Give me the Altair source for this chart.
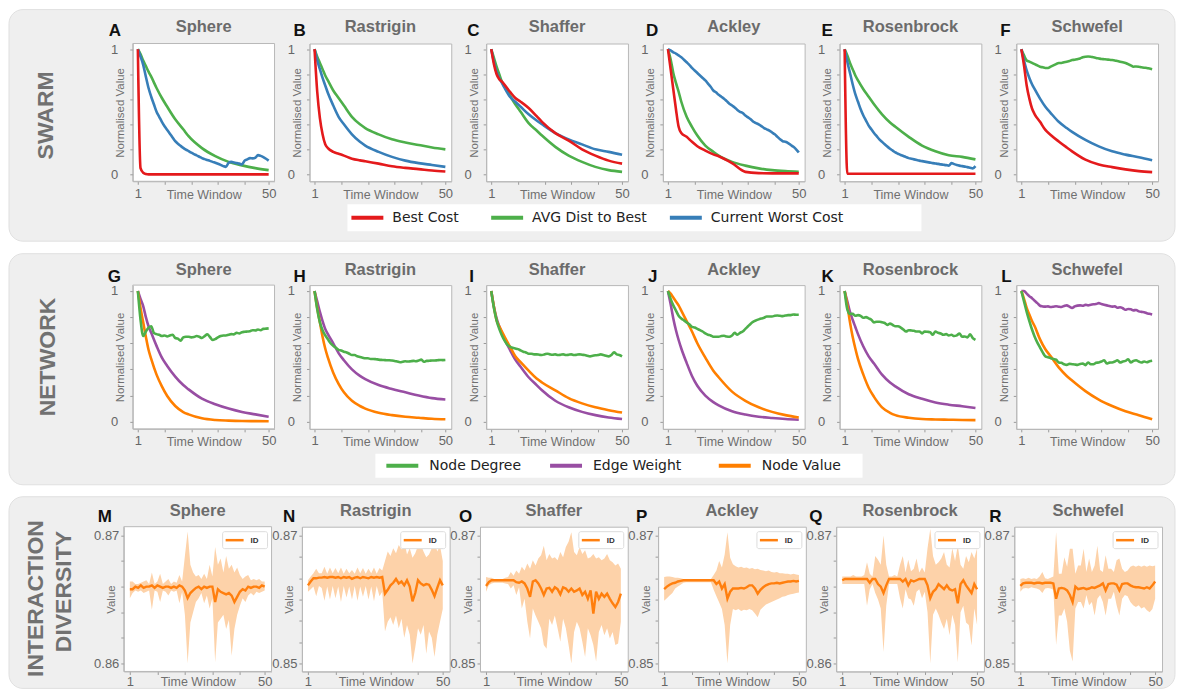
import altair as alt
import pandas as pd

# ---------------- data ----------------
T = list(range(1, 51))
TS = [1, 2, 3, 4, 5, 6, 8, 10, 12, 15, 18, 20, 25, 30, 35, 40, 45, 50]

FUNCTIONS = ["Sphere", "Rastrigin", "Shaffer", "Ackley", "Rosenbrock", "Schwefel"]
LETTERS_SWARM = ["A", "B", "C", "D", "E", "F"]
LETTERS_NET = ["G", "H", "I", "J", "K", "L"]
LETTERS_ID = ["M", "N", "O", "P", "Q", "R"]
ROW_LABELS = ["SWARM", "NETWORK", "INTERACTION", "DIVERSITY"]

SWARM_SERIES = ["Best Cost", "AVG Dist to Best", "Current Worst Cost"]
SWARM_COLORS = ["#e41a1c", "#4daf4a", "#377eb8"]
NET_SERIES = ["Node Degree", "Edge Weight", "Node Value"]
NET_COLORS = ["#4daf4a", "#984ea3", "#ff7f00"]
ID_SERIES = ["ID"]

# --- SWARM row ---
A_BEST = [1, 0.05, 0.013, 0.003, 0, 0, 0, 0, 0, 0, 0, 0, 0, 0, 0, 0, 0, 0]
A_DIST = [1, 0.96, 0.91, 0.865, 0.82, 0.78, 0.69, 0.61, 0.54, 0.44, 0.36, 0.305, 0.21, 0.146, 0.10, 0.072, 0.05, 0.034]
A_WORST = [1, 0.94, 0.875, 0.78, 0.69, 0.62, 0.56, 0.50, 0.46, 0.42,
           0.385, 0.355, 0.325, 0.295, 0.265, 0.245, 0.228, 0.212, 0.198, 0.186,
           0.173, 0.162, 0.152, 0.141, 0.13, 0.122, 0.115, 0.108, 0.10, 0.093,
           0.085, 0.076, 0.066, 0.06, 0.093, 0.10, 0.095, 0.09, 0.086, 0.08,
           0.11, 0.12, 0.13, 0.128, 0.133, 0.154, 0.148, 0.138, 0.125, 0.11]
B_BEST = [1, 0.66, 0.45, 0.32, 0.24, 0.21, 0.18, 0.165, 0.15, 0.125, 0.112, 0.105, 0.086, 0.065, 0.052, 0.042, 0.031, 0.023]
B_DIST = [1, 0.94, 0.89, 0.84, 0.79, 0.75, 0.67, 0.61, 0.55, 0.46, 0.40, 0.37, 0.32, 0.28, 0.255, 0.235, 0.215, 0.20]
B_WORST = [1, 0.91, 0.84, 0.77, 0.71, 0.65, 0.55, 0.46, 0.40, 0.32, 0.26, 0.23, 0.18, 0.14, 0.11, 0.09, 0.075, 0.06]
C_BEST = [1, 0.88, 0.80, 0.76, 0.74, 0.715, 0.66, 0.61, 0.58, 0.53, 0.465, 0.42, 0.33, 0.27, 0.20, 0.15, 0.11, 0.086]
C_DIST = [1, 0.93, 0.86, 0.80, 0.74, 0.70, 0.63, 0.56, 0.50, 0.41, 0.35, 0.31, 0.22, 0.15, 0.10, 0.06, 0.034, 0.02]
C_WORST = [1, 0.90, 0.82, 0.77, 0.73, 0.69, 0.62, 0.58, 0.54, 0.48, 0.43, 0.40, 0.33, 0.28, 0.24, 0.20, 0.18, 0.157]
D_BEST = [1, 0.84, 0.68, 0.52, 0.38, 0.33, 0.30, 0.26, 0.225, 0.19, 0.16, 0.145, 0.09, 0.02, 0.01, 0.008, 0.008, 0.008]
D_DIST = [1, 0.92, 0.81, 0.73, 0.66, 0.58, 0.46, 0.38, 0.31, 0.23, 0.18, 0.15, 0.10, 0.07, 0.048, 0.034, 0.026, 0.021]
D_WORST = [1, 0.99, 0.975, 0.965, 0.95, 0.935, 0.915, 0.895, 0.875, 0.85,
           0.83, 0.81, 0.79, 0.77, 0.75, 0.725, 0.70, 0.67, 0.655, 0.635,
           0.62, 0.605, 0.585, 0.565, 0.55, 0.535, 0.515, 0.50, 0.49, 0.47,
           0.455, 0.44, 0.42, 0.41, 0.40, 0.385, 0.37, 0.36, 0.35, 0.335,
           0.32, 0.30, 0.28, 0.265, 0.26, 0.25, 0.235, 0.22, 0.20, 0.175]
E_BEST = [1, 0.005, 0.005, 0.005, 0.005, 0.005, 0.005, 0.005, 0.005, 0.005, 0.005, 0.005, 0.005, 0.005, 0.005, 0.005, 0.005, 0.005]
E_DIST = [1, 0.95, 0.89, 0.84, 0.79, 0.75, 0.68, 0.62, 0.56, 0.48, 0.415, 0.38, 0.30, 0.23, 0.185, 0.153, 0.14, 0.12]
E_WORST = [1, 0.90, 0.81, 0.72, 0.64, 0.58, 0.52, 0.47, 0.43, 0.39,
           0.36, 0.33, 0.305, 0.28, 0.26, 0.24, 0.222, 0.205, 0.19, 0.175,
           0.165, 0.155, 0.147, 0.138, 0.13, 0.125, 0.12, 0.115, 0.11, 0.106,
           0.102, 0.098, 0.094, 0.09, 0.087, 0.084, 0.08, 0.077, 0.074, 0.07,
           0.09, 0.082, 0.075, 0.07, 0.066, 0.062, 0.058, 0.053, 0.048, 0.066]
F_BEST = [1, 0.87, 0.71, 0.605, 0.526, 0.48, 0.42, 0.355, 0.315, 0.263, 0.215, 0.184, 0.118, 0.079, 0.058, 0.04, 0.026, 0.018]
F_DIST = [1, 0.95, 0.91, 0.90, 0.89, 0.88, 0.87, 0.86, 0.855, 0.85,
          0.85, 0.86, 0.87, 0.88, 0.89, 0.89, 0.895, 0.90, 0.905, 0.913,
          0.915, 0.92, 0.926, 0.935, 0.94, 0.942, 0.94, 0.935, 0.93, 0.926,
          0.922, 0.92, 0.918, 0.915, 0.913, 0.91, 0.905, 0.90, 0.895, 0.89,
          0.88, 0.87, 0.86, 0.862, 0.86, 0.855, 0.852, 0.85, 0.845, 0.84]
F_WORST = [1, 0.91, 0.83, 0.77, 0.72, 0.68, 0.605, 0.54, 0.49, 0.42, 0.37, 0.34, 0.276, 0.224, 0.184, 0.158, 0.137, 0.113]

# --- NETWORK row ---
G_DEG = [1, 0.78, 0.655, 0.69, 0.72, 0.73, 0.68, 0.67, 0.665, 0.655,
         0.66, 0.652, 0.66, 0.665, 0.64, 0.635, 0.62, 0.645, 0.65, 0.65,
         0.645, 0.648, 0.655, 0.65, 0.64, 0.655, 0.668, 0.648, 0.625, 0.632,
         0.645, 0.655, 0.66, 0.66, 0.665, 0.67, 0.668, 0.68, 0.675, 0.685,
         0.688, 0.69, 0.692, 0.70, 0.698, 0.705, 0.70, 0.71, 0.712, 0.714]
G_EDGE = [1, 0.94, 0.885, 0.80, 0.73, 0.68, 0.58, 0.49, 0.426, 0.345, 0.28, 0.247, 0.176, 0.133, 0.10, 0.074, 0.056, 0.038]
G_NODE = [1, 0.87, 0.76, 0.65, 0.55, 0.48, 0.36, 0.27, 0.196, 0.12, 0.074, 0.056, 0.026, 0.013, 0.008, 0.005, 0.004, 0.003]
H_DEG = [1, 0.86, 0.76, 0.70, 0.66, 0.63, 0.60, 0.58, 0.565, 0.55,
         0.545, 0.535, 0.53, 0.52, 0.51, 0.51, 0.50, 0.495, 0.49, 0.485,
         0.485, 0.48, 0.48, 0.478, 0.475, 0.473, 0.472, 0.47, 0.47, 0.468,
         0.465, 0.46, 0.455, 0.458, 0.462, 0.46, 0.462, 0.465, 0.462, 0.468,
         0.475, 0.458, 0.465, 0.466, 0.468, 0.468, 0.47, 0.472, 0.471, 0.472]
H_EDGE = [1, 0.92, 0.84, 0.77, 0.71, 0.67, 0.60, 0.525, 0.47, 0.40, 0.35, 0.325, 0.28, 0.25, 0.225, 0.20, 0.18, 0.17]
H_NODE = [1, 0.87, 0.76, 0.65, 0.56, 0.49, 0.375, 0.29, 0.225, 0.16, 0.12, 0.10, 0.068, 0.05, 0.038, 0.03, 0.022, 0.018]
I_DEG = [1, 0.87, 0.775, 0.71, 0.66, 0.62, 0.59, 0.575, 0.565, 0.56,
         0.555, 0.545, 0.535, 0.53, 0.52, 0.52, 0.515, 0.515, 0.512, 0.51,
         0.515, 0.52, 0.515, 0.512, 0.515, 0.51, 0.512, 0.515, 0.51, 0.512,
         0.515, 0.51, 0.512, 0.515, 0.512, 0.51, 0.505, 0.50, 0.505, 0.508,
         0.51, 0.515, 0.51, 0.505, 0.50, 0.51, 0.53, 0.515, 0.51, 0.50]
I_EDGE = [1, 0.88, 0.79, 0.73, 0.675, 0.63, 0.55, 0.475, 0.42, 0.34, 0.28, 0.24, 0.16, 0.11, 0.075, 0.05, 0.032, 0.02]
I_NODE = [1, 0.88, 0.775, 0.73, 0.69, 0.65, 0.575, 0.50, 0.455, 0.39, 0.33, 0.30, 0.24, 0.18, 0.14, 0.11, 0.088, 0.07]
J_DEG = [1, 0.94, 0.89, 0.85, 0.81, 0.79, 0.775, 0.76, 0.745, 0.725,
         0.72, 0.71, 0.70, 0.69, 0.675, 0.665, 0.66, 0.65, 0.65, 0.65,
         0.655, 0.657, 0.652, 0.65, 0.66, 0.68, 0.665, 0.68, 0.69, 0.71,
         0.73, 0.75, 0.765, 0.775, 0.783, 0.79, 0.795, 0.805, 0.805, 0.805,
         0.81, 0.812, 0.81, 0.808, 0.812, 0.815, 0.815, 0.82, 0.818, 0.818]
J_EDGE = [1, 0.90, 0.79, 0.70, 0.625, 0.56, 0.45, 0.35, 0.275, 0.20, 0.15, 0.125, 0.08, 0.055, 0.038, 0.028, 0.02, 0.015]
J_NODE = [1, 0.98, 0.95, 0.92, 0.89, 0.85, 0.77, 0.69, 0.60, 0.49, 0.39, 0.34, 0.23, 0.16, 0.11, 0.075, 0.05, 0.032]
K_DEG = [1, 0.86, 0.825, 0.825, 0.81, 0.815, 0.81, 0.795, 0.80, 0.79,
         0.78, 0.76, 0.765, 0.765, 0.76, 0.755, 0.74, 0.75, 0.74, 0.73,
         0.73, 0.72, 0.705, 0.69, 0.70, 0.698, 0.695, 0.69, 0.69, 0.675,
         0.69, 0.688, 0.685, 0.665, 0.69, 0.68, 0.675, 0.665, 0.67, 0.66,
         0.665, 0.655, 0.66, 0.675, 0.65, 0.652, 0.645, 0.668, 0.64, 0.625]
K_EDGE = [1, 0.92, 0.84, 0.78, 0.725, 0.67, 0.575, 0.50, 0.445, 0.36, 0.30, 0.27, 0.21, 0.175, 0.147, 0.13, 0.118, 0.105]
K_NODE = [1, 0.89, 0.76, 0.65, 0.56, 0.48, 0.36, 0.26, 0.19, 0.11, 0.068, 0.05, 0.03, 0.02, 0.017, 0.015, 0.013, 0.012]
L_DEG = [1, 0.92, 0.84, 0.77, 0.705, 0.65, 0.605, 0.567, 0.53, 0.50,
         0.493, 0.486, 0.48, 0.474, 0.453, 0.45, 0.44, 0.435, 0.442, 0.44,
         0.438, 0.435, 0.442, 0.445, 0.433, 0.453, 0.44, 0.44, 0.45, 0.453,
         0.46, 0.47, 0.445, 0.452, 0.453, 0.46, 0.47, 0.453, 0.46, 0.465,
         0.478, 0.453, 0.465, 0.47, 0.46, 0.453, 0.46, 0.455, 0.462, 0.466]
L_EDGE = [1, 1.0, 0.98, 0.96, 0.945, 0.925, 0.907, 0.887, 0.882, 0.88,
          0.882, 0.878, 0.88, 0.883, 0.88, 0.878, 0.885, 0.89, 0.88, 0.87,
          0.882, 0.888, 0.89, 0.887, 0.894, 0.89, 0.895, 0.898, 0.90, 0.907,
          0.90, 0.895, 0.89, 0.885, 0.88, 0.883, 0.872, 0.876, 0.868, 0.856,
          0.862, 0.86, 0.852, 0.855, 0.844, 0.84, 0.838, 0.83, 0.825, 0.82]
L_NODE = [1, 0.94, 0.87, 0.82, 0.77, 0.73, 0.63, 0.554, 0.50, 0.415, 0.35, 0.315, 0.234, 0.169, 0.12, 0.08, 0.05, 0.018]

# --- INTERACTION DIVERSITY row (mean line, band low, band high) ---
M_LINE = [0.8658, 0.8658, 0.8660, 0.8659, 0.8661, 0.8659, 0.8660, 0.8660, 0.8661, 0.8659,
          0.8661, 0.8660, 0.8659, 0.8660, 0.8660, 0.8659, 0.8660, 0.8659, 0.8661, 0.8660,
          0.8657, 0.8651, 0.8655, 0.8657, 0.8659, 0.8660, 0.8658, 0.8660, 0.8659, 0.8660,
          0.8660, 0.8648, 0.8658, 0.8656, 0.8655, 0.8654, 0.8655, 0.8653, 0.8648, 0.8652,
          0.8656, 0.8658, 0.8657, 0.8660, 0.8659, 0.8660, 0.8660, 0.8659, 0.8661, 0.8660]
M_HI = [0.8664, 0.8664, 0.8662, 0.8662, 0.8663, 0.8664, 0.8665, 0.8662, 0.8671, 0.8662,
        0.8664, 0.8670, 0.8662, 0.8664, 0.8666, 0.8662, 0.8664, 0.8663, 0.8669, 0.8664,
        0.8684, 0.8703, 0.8677, 0.8671, 0.8668, 0.8669, 0.8666, 0.8670, 0.8666, 0.8677,
        0.8668, 0.8691, 0.8677, 0.8682, 0.8671, 0.8684, 0.8674, 0.8677, 0.8671, 0.8675,
        0.8669, 0.8666, 0.8668, 0.8669, 0.8665, 0.8666, 0.8665, 0.8666, 0.8664, 0.8664]
M_LO = [0.8651, 0.8655, 0.8657, 0.8656, 0.8657, 0.8655, 0.8656, 0.8657, 0.8642, 0.8657,
        0.8656, 0.8648, 0.8657, 0.8656, 0.8653, 0.8657, 0.8656, 0.8657, 0.8647, 0.8656,
        0.8638, 0.8600, 0.8632, 0.8640, 0.8648, 0.8651, 0.8655, 0.8647, 0.8653, 0.8643,
        0.8651, 0.8601, 0.8632, 0.8635, 0.8638, 0.8627, 0.8634, 0.8606, 0.8627, 0.8638,
        0.8645, 0.8651, 0.8648, 0.8653, 0.8655, 0.8653, 0.8656, 0.8655, 0.8656, 0.8657]
N_LINE = [0.8622, 0.8628, 0.8633, 0.8633, 0.8634, 0.8634, 0.8635, 0.8634, 0.8635, 0.8635,
          0.8634, 0.8635, 0.8633, 0.8635, 0.8634, 0.8635, 0.8632, 0.8634, 0.8635, 0.8633,
          0.8635, 0.8634, 0.8633, 0.8635, 0.8634, 0.8635, 0.8634, 0.8635, 0.8609, 0.8615,
          0.8622, 0.8626, 0.8632, 0.8625, 0.8628, 0.8622, 0.8630, 0.8620, 0.8597, 0.8610,
          0.8630, 0.8625, 0.8622, 0.8624, 0.8623, 0.8615, 0.8605, 0.8618, 0.8630, 0.8622]
N_HI = [0.8630, 0.8636, 0.8641, 0.8648, 0.8641, 0.8641, 0.8651, 0.8640, 0.8650, 0.8641,
        0.8649, 0.8641, 0.8650, 0.8640, 0.8648, 0.8641, 0.8646, 0.8640, 0.8650, 0.8641,
        0.8649, 0.8640, 0.8648, 0.8641, 0.8650, 0.8640, 0.8649, 0.8645, 0.8660, 0.8675,
        0.8668, 0.8680, 0.8672, 0.8685, 0.8678, 0.8692, 0.8670, 0.8680, 0.8665, 0.8672,
        0.8684, 0.8686, 0.8675, 0.8666, 0.8670, 0.8680, 0.8690, 0.8675, 0.8684, 0.8660]
N_LO = [0.8612, 0.8616, 0.8620, 0.8605, 0.8621, 0.8618, 0.8598, 0.8620, 0.8600, 0.8621,
        0.8602, 0.8620, 0.8596, 0.8621, 0.8603, 0.8620, 0.8600, 0.8621, 0.8598, 0.8620,
        0.8604, 0.8621, 0.8600, 0.8620, 0.8597, 0.8621, 0.8605, 0.8612, 0.8550, 0.8565,
        0.8572, 0.8560, 0.8575, 0.8555, 0.8570, 0.8540, 0.8560, 0.8545, 0.8500, 0.8525,
        0.8555, 0.8545, 0.8560, 0.8515, 0.8550, 0.8540, 0.8510, 0.8545, 0.8565, 0.8585]
O_LINE = [0.8621, 0.8627, 0.8630, 0.8630, 0.8630, 0.8630, 0.8630, 0.8630, 0.8630, 0.8630,
          0.8630, 0.8627, 0.8626, 0.8628, 0.8625, 0.8617, 0.8604, 0.8628, 0.8630, 0.8625,
          0.8617, 0.8607, 0.8617, 0.8618, 0.8612, 0.8619, 0.8616, 0.8608, 0.8619, 0.8617,
          0.8612, 0.8617, 0.8612, 0.8614, 0.8617, 0.8607, 0.8612, 0.8601, 0.8614, 0.8578,
          0.8612, 0.8601, 0.8609, 0.8604, 0.8609, 0.8601, 0.8594, 0.8588, 0.8596, 0.8609]
O_HI = [0.8635, 0.8634, 0.8634, 0.8632, 0.8632, 0.8632, 0.8632, 0.8634, 0.8635, 0.8643,
        0.8637, 0.8645, 0.8640, 0.8651, 0.8645, 0.8656, 0.8648, 0.8661, 0.8653, 0.8664,
        0.8669, 0.8684, 0.8661, 0.8671, 0.8664, 0.8666, 0.8661, 0.8674, 0.8666, 0.8682,
        0.8690, 0.8705, 0.8674, 0.8669, 0.8682, 0.8671, 0.8677, 0.8664, 0.8666, 0.8671,
        0.8664, 0.8666, 0.8661, 0.8664, 0.8671, 0.8661, 0.8658, 0.8653, 0.8656, 0.8648]
O_LO = [0.8612, 0.8622, 0.8625, 0.8626, 0.8626, 0.8626, 0.8626, 0.8625, 0.8624, 0.8617,
        0.8622, 0.8607, 0.8619, 0.8586, 0.8601, 0.8565, 0.8539, 0.8586, 0.8575, 0.8565,
        0.8555, 0.8529, 0.8523, 0.8570, 0.8560, 0.8575, 0.8555, 0.8534, 0.8570, 0.8555,
        0.8529, 0.8500, 0.8549, 0.8565, 0.8555, 0.8534, 0.8510, 0.8555, 0.8544, 0.8529,
        0.8503, 0.8549, 0.8560, 0.8544, 0.8555, 0.8539, 0.8549, 0.8529, 0.8531, 0.8565]
P_LINE = [0.8616, 0.8620, 0.8623, 0.8625, 0.8626, 0.8628, 0.8629, 0.8630, 0.8630, 0.8630,
          0.8630, 0.8630, 0.8630, 0.8630, 0.8630, 0.8630, 0.8630, 0.8630, 0.8630, 0.8624,
          0.8628, 0.8617, 0.8624, 0.8601, 0.8612, 0.8617, 0.8617, 0.8617, 0.8618, 0.8617,
          0.8619, 0.8622, 0.8622, 0.8617, 0.8609, 0.8615, 0.8619, 0.8622, 0.8624, 0.8625,
          0.8625, 0.8626, 0.8625, 0.8626, 0.8627, 0.8628, 0.8628, 0.8629, 0.8628, 0.8629]
P_HI = [0.8635, 0.8636, 0.8636, 0.8635, 0.8634, 0.8634, 0.8633, 0.8632, 0.8632, 0.8632,
        0.8632, 0.8632, 0.8632, 0.8632, 0.8632, 0.8632, 0.8632, 0.8632, 0.8638, 0.8645,
        0.8660, 0.8650, 0.8670, 0.8705, 0.8665, 0.8655, 0.8652, 0.8650, 0.8651, 0.8649,
        0.8650, 0.8648, 0.8649, 0.8647, 0.8648, 0.8646, 0.8645, 0.8644, 0.8645, 0.8643,
        0.8642, 0.8643, 0.8641, 0.8641, 0.8640, 0.8640, 0.8639, 0.8640, 0.8639, 0.8638]
P_LO = [0.8598, 0.8602, 0.8606, 0.8610, 0.8617, 0.8620, 0.8623, 0.8626, 0.8627, 0.8627,
        0.8627, 0.8627, 0.8627, 0.8627, 0.8627, 0.8627, 0.8627, 0.8627, 0.8615, 0.8605,
        0.8595, 0.8585, 0.8560, 0.8500, 0.8560, 0.8585, 0.8583, 0.8585, 0.8582, 0.8584,
        0.8583, 0.8585, 0.8583, 0.8578, 0.8572, 0.8584, 0.8588, 0.8592, 0.8594, 0.8596,
        0.8598, 0.8600, 0.8602, 0.8604, 0.8605, 0.8607, 0.8608, 0.8609, 0.8610, 0.8611]
Q_LINE = [0.8665, 0.8666, 0.8666, 0.8666, 0.8666, 0.8666, 0.8666, 0.8666, 0.8666, 0.8666,
          0.8663, 0.8666, 0.8666, 0.8662, 0.8660, 0.8655, 0.8661, 0.8666, 0.8666, 0.8666,
          0.8666, 0.8666, 0.8664, 0.8666, 0.8661, 0.8665, 0.8664, 0.8665, 0.8666, 0.8666,
          0.8666, 0.8661, 0.8651, 0.8656, 0.8658, 0.8662, 0.8660, 0.8658, 0.8661, 0.8658,
          0.8657, 0.8658, 0.8647, 0.8662, 0.8665, 0.8661, 0.8658, 0.8655, 0.8662, 0.8658]
Q_HI = [0.8668, 0.8668, 0.8668, 0.8668, 0.8669, 0.8668, 0.8668, 0.8668, 0.8669, 0.8679,
        0.8670, 0.8668, 0.8684, 0.8681, 0.8677, 0.8700, 0.8677, 0.8668, 0.8668, 0.8669,
        0.8668, 0.8677, 0.8684, 0.8671, 0.8681, 0.8672, 0.8674, 0.8682, 0.8671, 0.8675,
        0.8671, 0.8690, 0.8705, 0.8684, 0.8677, 0.8679, 0.8682, 0.8687, 0.8677, 0.8675,
        0.8690, 0.8680, 0.8692, 0.8677, 0.8674, 0.8684, 0.8679, 0.8687, 0.8682, 0.8690]
Q_LO = [0.8662, 0.8662, 0.8662, 0.8662, 0.8662, 0.8662, 0.8662, 0.8662, 0.8662, 0.8645,
        0.8658, 0.8662, 0.8655, 0.8650, 0.8643, 0.8609, 0.8645, 0.8662, 0.8662, 0.8662,
        0.8662, 0.8651, 0.8643, 0.8658, 0.8651, 0.8650, 0.8645, 0.8656, 0.8658, 0.8651,
        0.8656, 0.8640, 0.8600, 0.8638, 0.8643, 0.8638, 0.8632, 0.8627, 0.8635, 0.8622,
        0.8638, 0.8630, 0.8601, 0.8640, 0.8645, 0.8632, 0.8630, 0.8614, 0.8643, 0.8630]
R_LINE = [0.8621, 0.8625, 0.8626, 0.8626, 0.8626, 0.8625, 0.8626, 0.8626, 0.8625, 0.8626,
          0.8626, 0.8626, 0.8625, 0.8601, 0.8617, 0.8618, 0.8617, 0.8614, 0.8607, 0.8596,
          0.8620, 0.8616, 0.8617, 0.8618, 0.8616, 0.8617, 0.8619, 0.8618, 0.8620, 0.8622,
          0.8625, 0.8614, 0.8624, 0.8625, 0.8625, 0.8623, 0.8614, 0.8624, 0.8625, 0.8625,
          0.8622, 0.8620, 0.8619, 0.8619, 0.8618, 0.8617, 0.8619, 0.8617, 0.8622, 0.8628]
R_HI = [0.8632, 0.8633, 0.8632, 0.8634, 0.8632, 0.8633, 0.8632, 0.8636, 0.8643, 0.8633,
        0.8632, 0.8634, 0.8636, 0.8705, 0.8640, 0.8640, 0.8666, 0.8651, 0.8679, 0.8679,
        0.8640, 0.8653, 0.8653, 0.8679, 0.8643, 0.8664, 0.8643, 0.8653, 0.8684, 0.8646,
        0.8643, 0.8669, 0.8648, 0.8648, 0.8643, 0.8661, 0.8664, 0.8648, 0.8643, 0.8645,
        0.8651, 0.8653, 0.8651, 0.8653, 0.8651, 0.8653, 0.8651, 0.8653, 0.8652, 0.8653]
R_LO = [0.8612, 0.8617, 0.8618, 0.8617, 0.8619, 0.8618, 0.8617, 0.8615, 0.8610, 0.8617,
        0.8618, 0.8617, 0.8615, 0.8529, 0.8575, 0.8575, 0.8586, 0.8565, 0.8520, 0.8503,
        0.8586, 0.8596, 0.8596, 0.8586, 0.8607, 0.8591, 0.8596, 0.8575, 0.8601, 0.8607,
        0.8596, 0.8575, 0.8601, 0.8601, 0.8612, 0.8591, 0.8575, 0.8601, 0.8607, 0.8605,
        0.8596, 0.8591, 0.8588, 0.8591, 0.8586, 0.8588, 0.8583, 0.8580, 0.8585, 0.8601]

ID_LABEL_LO = [0.86, 0.85, 0.85, 0.85, 0.86, 0.85]
ID_LABEL_HI = [0.87, 0.87, 0.87, 0.87, 0.87, 0.87]

SWARM_DATA = [
    [(TS, A_BEST), (TS, A_DIST), (T, A_WORST)],
    [(TS, B_BEST), (TS, B_DIST), (TS, B_WORST)],
    [(TS, C_BEST), (TS, C_DIST), (TS, C_WORST)],
    [(TS, D_BEST), (TS, D_DIST), (T, D_WORST)],
    [(TS, E_BEST), (TS, E_DIST), (T, E_WORST)],
    [(TS, F_BEST), (T, F_DIST), (TS, F_WORST)],
]
NET_DATA = [
    [(T, G_DEG), (TS, G_EDGE), (TS, G_NODE)],
    [(T, H_DEG), (TS, H_EDGE), (TS, H_NODE)],
    [(T, I_DEG), (TS, I_EDGE), (TS, I_NODE)],
    [(T, J_DEG), (TS, J_EDGE), (TS, J_NODE)],
    [(T, K_DEG), (TS, K_EDGE), (TS, K_NODE)],
    [(T, L_DEG), (T, L_EDGE), (TS, L_NODE)],
]
ID_DATA = [(M_LINE, M_LO, M_HI), (N_LINE, N_LO, N_HI), (O_LINE, O_LO, O_HI),
           (P_LINE, P_LO, P_HI), (Q_LINE, Q_LO, Q_HI), (R_LINE, R_LO, R_HI)]

# ---------------- style / layout ----------------
FONT = "Liberation Sans"
LEG_FONT = "DejaVu Sans"
TITLE_GREY = "#6b6b6b"
ROW_GREY = "#717171"
FRAME = "#b8b8b8"
BG = "#efefef"
ORANGE = "#ff7f0e"
BAND = "#fdd2a9"

W12, H1, H2 = 142, 138, 144
SP12 = 35
W3, H3, SP3 = 148, 145, 30.4
SHIFT = 9  # rows 1-2 start this far right of row 3

XDOM12 = [-0.9, 52.2]
YDOM12 = [-0.055, 1.045]
XDOM3 = [-1.2, 52.5]

one = pd.DataFrame({"k": [0]})

AX = dict(zindex=1, grid=False, domainColor=FRAME, tickColor="#9a9a9a",
          labelColor="#666666", titleColor="#707070", labelFont=FONT, titleFont=FONT,
          titleFontWeight="normal", labelOverlap=False)


def txt(text, x, y, size, color, weight="bold", angle=0, align="center",
        baseline="middle", font=FONT):
    return alt.Chart(one).mark_text(
        text=text, fontSize=size, fontWeight=weight, color=color, angle=angle,
        align=align, baseline=baseline, font=font
    ).encode(x=alt.value(x), y=alt.value(y))


def box(x, x2, y, y2, fill, stroke=None, radius=0):
    props = dict(fill=fill, cornerRadius=radius)
    if stroke:
        props.update(stroke=stroke, strokeWidth=1)
    return alt.Chart(one).mark_rect(**props).encode(
        x=alt.value(x), x2=alt.value(x2), y=alt.value(y), y2=alt.value(y2))


def seg(x, x2, y, color, width):
    return alt.Chart(one).mark_rule(color=color, strokeWidth=width).encode(
        x=alt.value(x), x2=alt.value(x2), y=alt.value(y))


def spacer(h):
    return alt.Chart(one).mark_point(opacity=0).encode(
        x=alt.value(0), y=alt.value(0)
    ).properties(width=1, height=h,
                 view=alt.ViewBackground(stroke="transparent", fill="transparent"))


X_TICKS = [1, 11, 21, 31, 41, 50]
X_LABEL = "datum.value == 1 || datum.value == 50 ? datum.label : ''"

XAX12 = alt.Axis(values=X_TICKS, labelExpr=X_LABEL, title="Time Window", titleY=13,
                 titleBaseline="middle", titleFontSize=12.5, labelFontSize=13,
                 tickSize=3, labelPadding=3, labelFlush=False, labelAngle=0, **AX)
YAX12 = alt.Axis(values=[0, 0.2, 0.4, 0.6, 0.8, 1],
                 labelExpr="datum.value == 0 ? '0' : (datum.value == 1 ? '1' : '')",
                 title="Normalised Value", titleX=-7, titleAngle=270, titleBaseline="bottom",
                 titleFontSize=11.5, labelFontSize=13, tickSize=3, labelPadding=12, **AX)
XAX3 = alt.Axis(values=X_TICKS, labelExpr=X_LABEL, title="Time Window", titleY=10,
                titleBaseline="middle", titleFontSize=12.5, labelFontSize=13,
                tickSize=3, labelPadding=1, labelFlush=False, labelAngle=0, **AX)


def line_panel(i, letters, data, names, colors, h, letter_dx, letter_dy, title_dy,
               pre=(), post=()):
    xsc = alt.Scale(domain=XDOM12, nice=False, zero=False)
    ysc = alt.Scale(domain=YDOM12, nice=False, zero=False)
    layers = list(pre)
    order = [1, 2, 0]
    for k in order:
        xs, ys = data[i][k]
        df = pd.DataFrame({"t": xs, "v": ys, "series": names[k]})
        layers.append(
            alt.Chart(df).mark_line(color=colors[k], strokeWidth=2.6,
                                    interpolate="monotone", clip=True).encode(
                x=alt.X("t:Q", scale=xsc, axis=XAX12),
                y=alt.Y("v:Q", scale=ysc, axis=YAX12)))
    layers.append(txt(letters[i], letter_dx, letter_dy, 17, "#111111",
                      align="left", baseline="alphabetic"))
    layers.append(txt(FUNCTIONS[i], W12 / 2, title_dy, 16.5, TITLE_GREY))
    layers += list(post)
    return alt.layer(*layers).properties(width=W12, height=h)


def id_panel(i, letter_dx, pre=(), post=()):
    line, lo, hi = ID_DATA[i]
    vlo, vhi = ID_LABEL_LO[i], ID_LABEL_HI[i]
    if vlo == 0.86:
        ydom = [0.85938, 0.87068]
        ticks = [0.86, 0.862, 0.864, 0.866, 0.868, 0.87]
    else:
        ydom = [0.84875, 0.87136]
        ticks = [0.85, 0.8533, 0.8567, 0.86, 0.8633, 0.8667, 0.87]
    yax = alt.Axis(values=ticks, format=".2f",
                   labelExpr=f"abs(datum.value - {vlo}) < 1e-6 || abs(datum.value - {vhi}) < 1e-6 ? datum.label : ''",
                   title="Value", titleX=-7, titleAngle=270, titleBaseline="bottom",
                   titleFontSize=11.5, labelFontSize=13, tickSize=3, labelPadding=2, **AX)
    xsc = alt.Scale(domain=XDOM3, nice=False, zero=False)
    ysc = alt.Scale(domain=ydom, nice=False, zero=False)
    df = pd.DataFrame({"t": T, "v": line, "lo": lo, "hi": hi})
    band = alt.Chart(df).mark_area(color=BAND, opacity=1, clip=True).encode(
        x=alt.X("t:Q", scale=xsc, axis=XAX3),
        y=alt.Y("lo:Q", scale=ysc, axis=yax), y2="hi:Q")
    ln = alt.Chart(df).mark_line(color=ORANGE, strokeWidth=2.4, clip=True).encode(
        x=alt.X("t:Q", scale=xsc, axis=XAX3),
        y=alt.Y("v:Q", scale=ysc, axis=yax))
    layers = list(pre) + [band, ln,
        box(W3 - 49, W3 - 4, 5, 22, "white", stroke="#dcdcdc", radius=2),
        seg(W3 - 46, W3 - 28, 13.5, ORANGE, 2.5),
        txt(ID_SERIES[0], W3 - 21, 14, 8, "#333333", align="left"),
        txt(LETTERS_ID[i], letter_dx, -5, 17, "#111111", align="left", baseline="alphabetic"),
        txt(FUNCTIONS[i], W3 / 2, -16, 16.5, TITLE_GREY)] + list(post)
    return alt.layer(*layers).properties(width=W3, height=H3)


# ---- row 1: SWARM ----
leg1 = [box(215, 790, 161, 188, "white")]
for k, x0 in enumerate([219, 359, 538]):
    leg1.append(seg(x0, x0 + 32, 174.5, SWARM_COLORS[k], 4))
    leg1.append(txt(SWARM_SERIES[k], x0 + 41, 175, 14, "#222222", weight="normal",
                    align="left", font=LEG_FONT))
pre1 = [box(-124, 1044, -34, 198, BG, stroke="#e0e0e0", radius=14),
        box(0, W12, 0, H1, "white", stroke=FRAME)]
post1 = [txt(ROW_LABELS[0], -87, 72, 23, ROW_GREY, angle=270)] + leg1
dx1 = [-24, -16, -19, -17, -18, -16]
row1_panels = alt.hconcat(*[
    line_panel(i, LETTERS_SWARM, SWARM_DATA, SWARM_SERIES, SWARM_COLORS, H1, dx1[i], -8, -17,
               pre=pre1 if i == 0 else (), post=post1 if i == 0 else ())
    for i in range(6)], spacing=SP12, bounds="flush")
row1 = alt.hconcat(spacer(H1), row1_panels, spacing=SHIFT - 1, bounds="flush")

# ---- row 2: NETWORK ----
leg2 = [box(243, 731, 169, 193, "white")]
for k, x0 in enumerate([254, 418, 587]):
    leg2.append(seg(x0, x0 + 32, 181, NET_COLORS[k], 4))
    leg2.append(txt(NET_SERIES[k], x0 + 43, 181.5, 14, "#222222", weight="normal",
                    align="left", font=LEG_FONT))
pre2 = [box(-124, 1044, -31.5, 200, BG, stroke="#e0e0e0", radius=14),
        box(0, W12, 0, H2, "white", stroke=FRAME)]
post2 = [txt(ROW_LABELS[1], -85, 72, 23, ROW_GREY, angle=270)] + leg2
dx2 = [-25, -16, -17, -15, -18, -15]
row2_panels = alt.hconcat(*[
    line_panel(i, LETTERS_NET, NET_DATA, NET_SERIES, NET_COLORS, H2, dx2[i], -3, -15,
               pre=pre2 if i == 0 else (), post=post2 if i == 0 else ())
    for i in range(6)], spacing=SP12, bounds="flush")
row2 = alt.hconcat(spacer(H2), row2_panels, spacing=SHIFT - 1, bounds="flush")

# ---- row 3: INTERACTION DIVERSITY ----
pre3 = [box(-115, 1053, -30, 162, BG, stroke="#e0e0e0", radius=14),
        box(0, W3, 0, H3, "white", stroke=FRAME)]
post3 = [txt(ROW_LABELS[2], -88, 72, 23, ROW_GREY, angle=270),
         txt(ROW_LABELS[3], -60, 65, 23, ROW_GREY, angle=270)]
dx3 = [-26, -19, -21, -22, -27, -25]
row3 = alt.hconcat(*[
    id_panel(i, dx3[i], pre=pre3 if i == 0 else (), post=post3 if i == 0 else ())
    for i in range(6)], spacing=SP3, bounds="flush")

chart = alt.vconcat(row1, row2, row3, spacing=10, padding=0,
                    background="white").configure(font=FONT).configure_view(
    stroke=FRAME, strokeWidth=1, fill="white")

chart.save("out.html", embed_options={"renderer": "svg", "actions": False})
